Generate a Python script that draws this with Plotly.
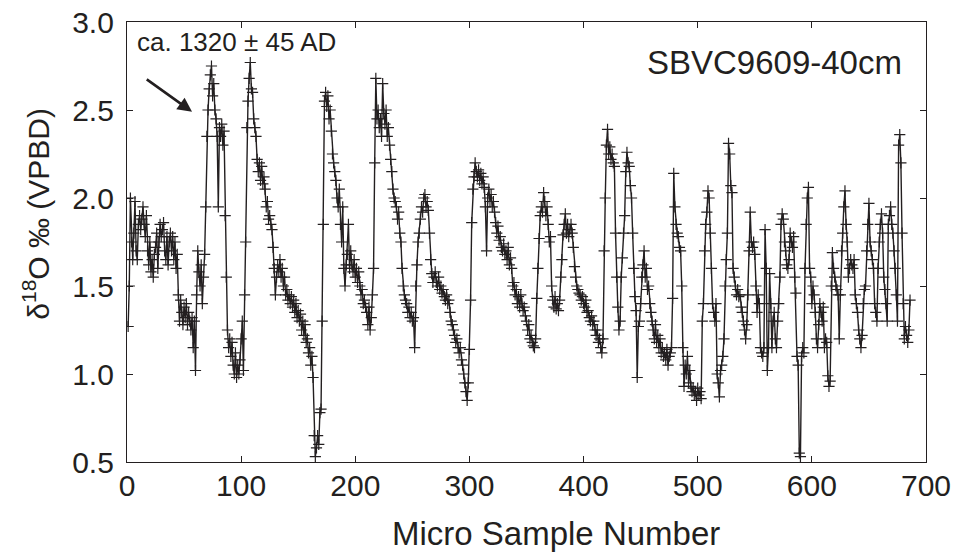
import plotly.graph_objects as go

sample_start = 1
d18o = [
    1.27, 1.50, 2.00, 1.75, 1.65, 1.80, 1.98, 1.70, 1.65, 1.85,
    1.90, 1.82, 1.88, 1.95, 1.85, 1.78, 1.90, 1.70, 1.62, 1.75,
    1.58, 1.65, 1.55, 1.68, 1.72, 1.80, 1.60, 1.75, 1.85, 1.78,
    1.82, 1.86, 1.70, 1.65, 1.78, 1.62, 1.75, 1.80, 1.70, 1.78,
    1.65, 1.75, 1.60, 1.68, 1.45, 1.30, 1.42, 1.35, 1.28, 1.38,
    1.32, 1.40, 1.28, 1.35, 1.30, 1.25, 1.32, 1.15, 1.30, 1.02,
    1.45, 1.70, 1.58, 1.50, 1.62, 1.40, 1.55, 1.68, 1.95, 2.35,
    2.50, 2.62, 2.70, 2.75, 2.58, 2.65, 2.50, 2.45, 2.35, 1.95,
    2.40, 2.35, 2.42, 2.30, 2.38, 1.90, 1.55, 1.25, 1.15, 1.20,
    1.10, 1.18, 1.05, 1.00, 1.12, 0.98, 1.05, 1.00, 1.08, 1.20,
    1.30, 1.02, 1.45, 1.75, 2.40, 2.55, 2.68, 2.77, 2.62, 2.60,
    2.45, 2.40, 2.35, 2.22, 2.15, 2.20, 2.10, 2.18, 2.08, 2.12,
    2.05, 1.95, 1.98, 1.88, 1.90, 1.85, 1.82, 1.72, 1.60, 1.45,
    1.55, 1.62, 1.58, 1.65, 1.55, 1.60, 1.50, 1.55, 1.45, 1.48,
    1.42, 1.45, 1.40, 1.44, 1.38, 1.42, 1.35, 1.40, 1.32, 1.36,
    1.30, 1.34, 1.25, 1.30, 1.22, 1.28, 1.18, 1.20, 1.12, 1.15,
    1.05, 1.10, 0.98, 0.65, 0.53, 0.58, 0.65, 0.60, 0.78, 0.80,
    1.30, 1.85, 2.55, 2.60, 2.52, 2.58, 2.45, 2.50, 2.38, 2.25,
    2.20, 2.15, 2.10, 2.00, 1.95, 2.05, 1.85, 1.75, 1.95, 1.60,
    1.50, 1.62, 1.68, 1.85, 1.60, 1.70, 1.62, 1.58, 1.65, 1.55,
    1.60, 1.52, 1.58, 1.50, 1.45, 1.48, 1.40, 1.42, 1.38, 1.35,
    1.28, 1.38, 1.25, 1.32, 1.45, 1.60, 2.20, 2.68, 2.45, 2.50,
    2.40, 2.45, 2.35, 2.65, 2.48, 2.42, 2.50, 2.35, 2.40, 2.30,
    2.22, 2.15, 2.05, 2.00, 1.98, 1.95, 1.88, 1.92, 1.80, 1.75,
    1.60, 1.50, 1.45, 1.42, 1.40, 1.35, 1.38, 1.32, 1.35, 1.30,
    1.32, 1.15, 1.50, 1.62, 1.75, 1.80, 1.88, 1.95, 1.92, 2.00,
    2.02, 1.95, 1.98, 1.93, 1.80, 1.65, 1.57, 1.52, 1.55, 1.58,
    1.52, 1.50, 1.55, 1.48, 1.50, 1.46, 1.48, 1.44, 1.42, 1.45,
    1.40, 1.42, 1.35, 1.30, 1.28, 1.25, 1.22, 1.18, 1.20, 1.15,
    1.12, 1.15, 1.08, 1.05, 1.00, 0.95, 0.90, 0.85, 0.95, 1.14,
    1.42, 1.86, 2.05, 2.12, 2.20, 2.15, 2.12, 2.16, 2.10, 2.14,
    2.08, 2.12, 2.06, 1.95, 1.70, 2.00, 2.05, 1.98, 2.02, 1.95,
    1.98, 1.92, 1.86, 1.80, 1.84, 1.76, 1.78, 1.72, 1.70, 1.74,
    1.68, 1.70, 1.65, 1.72, 1.62, 1.66, 1.60, 1.50, 1.52, 1.45,
    1.48, 1.40, 1.44, 1.38, 1.45, 1.40, 1.36, 1.38, 1.33, 1.30,
    1.25, 1.28, 1.20, 1.22, 1.18, 1.16, 1.15, 1.20, 1.43, 1.60,
    1.77, 1.90, 1.95, 1.92, 2.03, 1.98, 1.90, 1.95, 1.85, 1.75,
    1.78, 1.50, 1.42, 1.38, 1.44, 1.37, 1.40, 1.36, 1.42, 1.55,
    1.65, 1.79, 1.85, 1.91, 1.80, 1.85, 1.78, 1.82, 1.85, 1.80,
    1.72, 1.61, 1.55, 1.50, 1.48, 1.46, 1.45, 1.42, 1.44, 1.40,
    1.38, 1.42, 1.35, 1.36, 1.32, 1.30, 1.33, 1.28, 1.30, 1.25,
    1.22, 1.25, 1.18, 1.20, 1.15, 1.12, 1.20, 1.70, 2.00, 2.30,
    2.39, 2.25, 2.29, 2.22, 2.25, 2.20, 2.18, 1.80, 1.55, 1.38,
    1.25, 1.30, 1.55, 1.66, 1.80, 1.90, 2.15, 2.26, 2.20, 2.18,
    2.07, 2.00, 1.80, 1.60, 1.44, 1.36, 0.98, 1.27, 1.30, 1.40,
    1.55, 1.62, 1.70, 1.55, 1.60, 1.48, 1.50, 1.40, 1.35, 1.30,
    1.25, 1.20, 1.28, 1.18, 1.22, 1.15, 1.20, 1.12, 1.15, 1.10,
    1.12, 1.08, 1.14, 1.05, 1.10, 1.12, 1.15, 1.43, 2.14, 1.95,
    1.85, 1.80, 1.78, 1.72, 1.70, 1.50, 1.15, 0.93, 1.05, 1.00,
    1.10, 0.95, 1.02, 0.93, 0.90, 0.92, 0.88, 0.90, 0.85, 0.92,
    0.88, 0.90, 0.86, 1.30, 1.40, 1.70, 1.85, 1.92, 2.04, 2.00,
    1.80, 1.60, 1.40, 1.35, 1.30, 1.40, 1.00, 0.95, 0.87, 1.02,
    1.05, 1.10, 1.20, 1.50, 1.65, 1.80, 2.31, 2.25, 2.07, 2.03,
    1.60, 1.55, 1.50, 1.45, 1.48, 1.44, 1.45, 1.38, 1.35, 1.30,
    1.25, 1.20, 1.28, 1.45, 1.70, 1.92, 1.75, 1.72, 1.75, 1.68,
    1.50, 1.35, 1.45, 1.40, 1.15, 1.12, 1.10, 1.15, 1.82, 1.60,
    1.02, 1.15, 1.57, 1.40, 1.15, 1.30, 1.35, 1.20, 1.15, 1.30,
    1.40, 1.55, 1.85, 1.91, 1.88, 1.75, 1.70, 1.62, 1.60, 1.65,
    1.80, 1.75, 1.72, 1.78, 1.55, 1.46, 1.10, 1.05, 0.55, 0.53,
    1.10, 1.15, 1.12, 1.60, 1.85, 2.00, 2.06, 1.60, 1.55, 1.40,
    1.50, 1.45, 1.35, 1.20, 1.15, 1.28, 1.40, 1.35, 1.30, 1.38,
    1.15, 1.20, 1.18, 0.99, 0.93, 0.96, 1.50, 1.69, 1.60, 1.55,
    1.50, 1.48, 1.45, 1.20, 1.45, 1.70, 1.80, 1.95, 2.04, 1.85,
    1.75, 1.55, 1.60, 1.65, 1.62, 1.60, 1.65, 1.45, 1.40, 1.35,
    1.25, 1.20, 1.15, 1.22, 1.40, 1.48, 1.50, 1.70, 1.85, 1.97,
    1.75, 1.70, 1.65, 1.60, 1.40, 1.35, 1.30, 1.60, 1.75, 1.85,
    1.91, 1.80, 1.55, 1.48, 1.40, 1.30, 1.85, 1.90, 1.95, 1.85,
    1.80, 1.70, 1.60, 1.45, 1.30, 2.30, 2.36, 2.20, 1.80, 1.40,
    1.20, 1.27, 1.22, 1.18, 1.25, 1.42,
]
samples = list(range(sample_start, sample_start + len(d18o)))

x_ticks = [0, 100, 200, 300, 400, 500, 600, 700]
y_ticks = [0.5, 1.0, 1.5, 2.0, 2.5, 3.0]
y_tick_text = ["0.5", "1.0", "1.5", "2.0", "2.5", "3.0"]

x_title = "Micro Sample Number"
y_title = "δ<sup>18</sup>O ‰ (VPBD)"
date_label = "ca. 1320 ± 45 AD"
core_label = "SBVC9609-40cm"
arrow_tail = (16, 2.68)
arrow_head = (57, 2.49)

FONT = "Liberation Sans, Arial, Helvetica, sans-serif"
INK = "#231f20"

fig = go.Figure()
fig.add_trace(go.Scatter(
    x=samples, y=d18o, mode="lines+markers",
    line=dict(color=INK, width=1.4),
    marker=dict(symbol="cross-thin", size=8, line=dict(color=INK, width=1.2)),
    showlegend=False, hoverinfo="skip",
))

fig.add_annotation(
    x=arrow_head[0], y=arrow_head[1], ax=arrow_tail[0], ay=arrow_tail[1],
    xref="x", yref="y", axref="x", ayref="y",
    showarrow=True, arrowhead=2, arrowsize=1.1, arrowwidth=2.6, arrowcolor=INK,
    text="",
)
fig.add_annotation(
    x=7, y=2.885, xref="x", yref="y", text=date_label, showarrow=False,
    xanchor="left", yanchor="middle", font=dict(family=FONT, size=26, color=INK),
)
fig.add_annotation(
    x=681, y=2.77, xref="x", yref="y", text=core_label, showarrow=False,
    xanchor="right", yanchor="middle", font=dict(family=FONT, size=33, color=INK),
)
# axis titles (offset like the reference)
fig.add_annotation(
    x=0.537, y=-0.163, xref="paper", yref="paper", text=x_title, showarrow=False,
    xanchor="center", yanchor="middle", font=dict(family=FONT, size=33, color=INK),
)
fig.add_annotation(
    x=-0.114, y=0.564, xref="paper", yref="paper", text=y_title, showarrow=False,
    textangle=-90, xanchor="center", yanchor="middle",
    font=dict(family=FONT, size=30, color=INK),
)

axis_common = dict(
    showline=True, linecolor=INK, linewidth=1.2, mirror="ticks",
    ticks="inside", ticklen=6, tickcolor=INK, tickwidth=1,
    showgrid=False, zeroline=False, automargin=False,
    tickfont=dict(family=FONT, size=30, color=INK),
)

fig.update_xaxes(range=[0, 700], tickvals=x_ticks, ticklabelstandoff=-3, **axis_common)
fig.update_yaxes(range=[0.5, 3.0], tickvals=y_ticks, ticktext=y_tick_text,
                 ticklabelstandoff=6, **axis_common)

fig.update_layout(
    width=963, height=557,
    margin=dict(l=127, r=37, t=22, b=95),
    paper_bgcolor="white", plot_bgcolor="white",
    font=dict(family=FONT, color=INK),
)

fig.write_html("out.html")
